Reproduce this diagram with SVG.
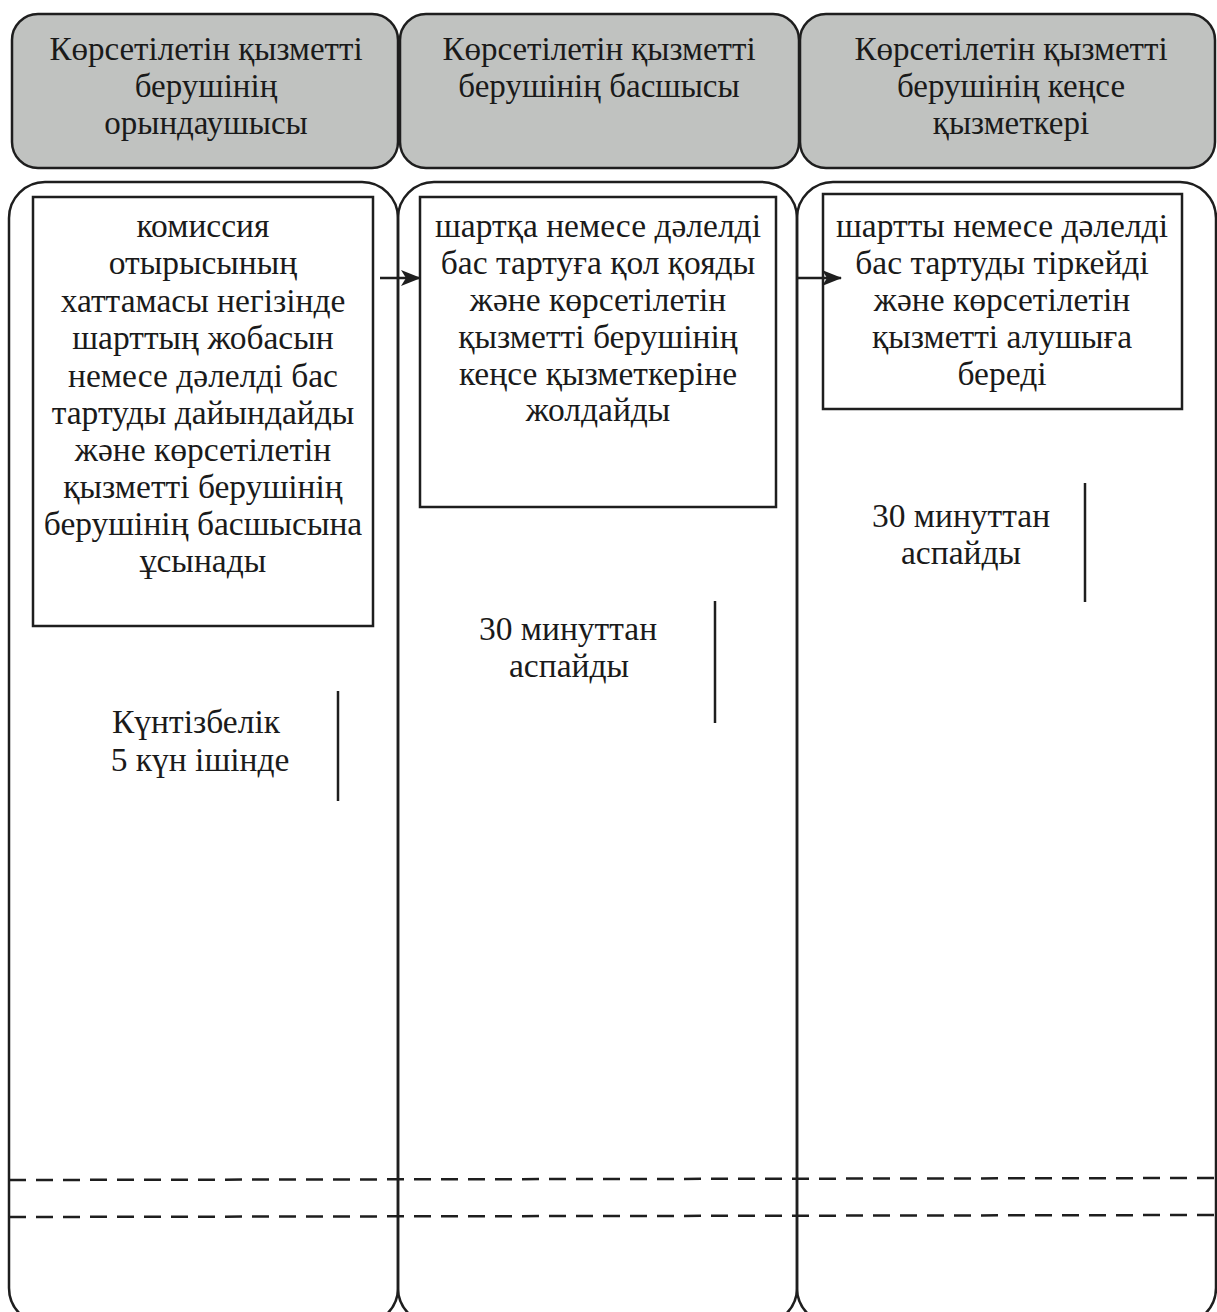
<svg xmlns="http://www.w3.org/2000/svg" width="1217" height="1312" viewBox="0 0 1217 1312">
  <style>
    .hdr { fill: #c0c2c0; stroke: #1e1e1e; stroke-width: 2.5; }
    .lane { fill: none; stroke: #1e1e1e; stroke-width: 2.5; }
    .box { fill: #ffffff; stroke: #1e1e1e; stroke-width: 2.5; }
    .txt { font-family: "Liberation Serif", "Times New Roman", serif; font-size: 33.5px; fill: #1a1a1a; text-anchor: middle; }
    .htxt { font-family: "Liberation Serif", "Times New Roman", serif; font-size: 33px; fill: #1a1a1a; text-anchor: middle; }
    .tick { stroke: #1e1e1e; stroke-width: 2.5; }
    .dash { stroke: #1e1e1e; stroke-width: 2.5; stroke-dasharray: 17 10; fill: none; }
    .conn { stroke: #1e1e1e; stroke-width: 2.5; fill: none; }
  </style>
  <defs>
    <marker id="arrow" viewBox="0 0 20 16" refX="19" refY="8" markerWidth="20" markerHeight="16" markerUnits="userSpaceOnUse" orient="auto">
      <path d="M0,0 L20,8 L0,16 L5,8 Z" fill="#1e1e1e"/>
    </marker>
  </defs>
  <rect width="1217" height="1312" fill="#ffffff"/>

  <!-- lane headers -->
  <g id="header-executor">
    <rect class="hdr" x="12" y="14" width="386" height="154" rx="26"/>
    <text class="htxt" x="206" y="60">Көрсетілетін қызметті</text>
    <text class="htxt" x="206" y="97">берушінің</text>
    <text class="htxt" x="206" y="134">орындаушысы</text>
  </g>
  <g id="header-head">
    <rect class="hdr" x="400" y="14" width="399" height="154" rx="26"/>
    <text class="htxt" x="599" y="60">Көрсетілетін қызметті</text>
    <text class="htxt" x="599" y="97">берушінің басшысы</text>
  </g>
  <g id="header-office">
    <rect class="hdr" x="800" y="14" width="415" height="154" rx="26"/>
    <text class="htxt" x="1011" y="60">Көрсетілетін қызметті</text>
    <text class="htxt" x="1011" y="97">берушінің кеңсе</text>
    <text class="htxt" x="1011" y="134">қызметкері</text>
  </g>

  <!-- lane bodies -->
  <g id="lane-bodies">
    <rect class="lane" x="9" y="182" width="389" height="1142" rx="36"/>
    <rect class="lane" x="398" y="182" width="399" height="1142" rx="36"/>
    <rect class="lane" x="797" y="182" width="419" height="1142" rx="36"/>
  </g>

  <!-- separator lines near the bottom -->
  <g id="separators">
    <line class="dash" x1="9" y1="1180" x2="1217" y2="1178"/>
    <line class="dash" x1="9" y1="1217" x2="1217" y2="1215"/>
  </g>

  <!-- step 1 -->
  <g id="step-prepare">
    <rect class="box" x="33" y="197" width="340" height="429"/>
    <text class="txt" x="203" y="237">комиссия</text>
    <text class="txt" x="203" y="274">отырысының</text>
    <text class="txt" x="203" y="312">хаттамасы негізінде</text>
    <text class="txt" x="203" y="349">шарттың жобасын</text>
    <text class="txt" x="203" y="387">немесе дәлелді бас</text>
    <text class="txt" x="203" y="424">тартуды дайындайды</text>
    <text class="txt" x="203" y="461">және көрсетілетін</text>
    <text class="txt" x="203" y="498">қызметті берушінің</text>
    <text class="txt" x="203" y="535">берушінің басшысына</text>
    <text class="txt" x="203" y="572">ұсынады</text>
  </g>

  <!-- step 2 -->
  <g id="step-sign">
    <rect class="box" x="420" y="197" width="356" height="310"/>
    <text class="txt" x="598" y="237">шартқа немесе дәлелді</text>
    <text class="txt" x="598" y="274">бас тартуға қол қояды</text>
    <text class="txt" x="598" y="311">және көрсетілетін</text>
    <text class="txt" x="598" y="348">қызметті берушінің</text>
    <text class="txt" x="598" y="385">кеңсе қызметкеріне</text>
    <text class="txt" x="598" y="421">жолдайды</text>
  </g>

  <!-- step 3 -->
  <g id="step-register">
    <rect class="box" x="823" y="194" width="359" height="215"/>
    <text class="txt" x="1002" y="237">шартты немесе дәлелді</text>
    <text class="txt" x="1002" y="274">бас тартуды тіркейді</text>
    <text class="txt" x="1002" y="311">және көрсетілетін</text>
    <text class="txt" x="1002" y="348">қызметті алушыға</text>
    <text class="txt" x="1002" y="385">береді</text>
  </g>

  <!-- durations -->
  <g id="time-step1">
    <text class="txt" x="196" y="733">Күнтізбелік</text>
    <text class="txt" x="200" y="771">5 күн ішінде</text>
    <line class="tick" x1="338" y1="691" x2="338" y2="801"/>
  </g>
  <g id="time-step2">
    <text class="txt" x="568" y="640">30 минуттан</text>
    <text class="txt" x="569" y="677">аспайды</text>
    <line class="tick" x1="715" y1="601" x2="715" y2="723"/>
  </g>
  <g id="time-step3">
    <text class="txt" x="961" y="527">30 минуттан</text>
    <text class="txt" x="961" y="564">аспайды</text>
    <line class="tick" x1="1085" y1="483" x2="1085" y2="602"/>
  </g>

  <!-- connectors -->
  <g id="connectors">
    <line class="conn" x1="380" y1="278" x2="420" y2="278" marker-end="url(#arrow)"/>
    <line class="conn" x1="797" y1="278" x2="841" y2="278" marker-end="url(#arrow)"/>
  </g>
</svg>
